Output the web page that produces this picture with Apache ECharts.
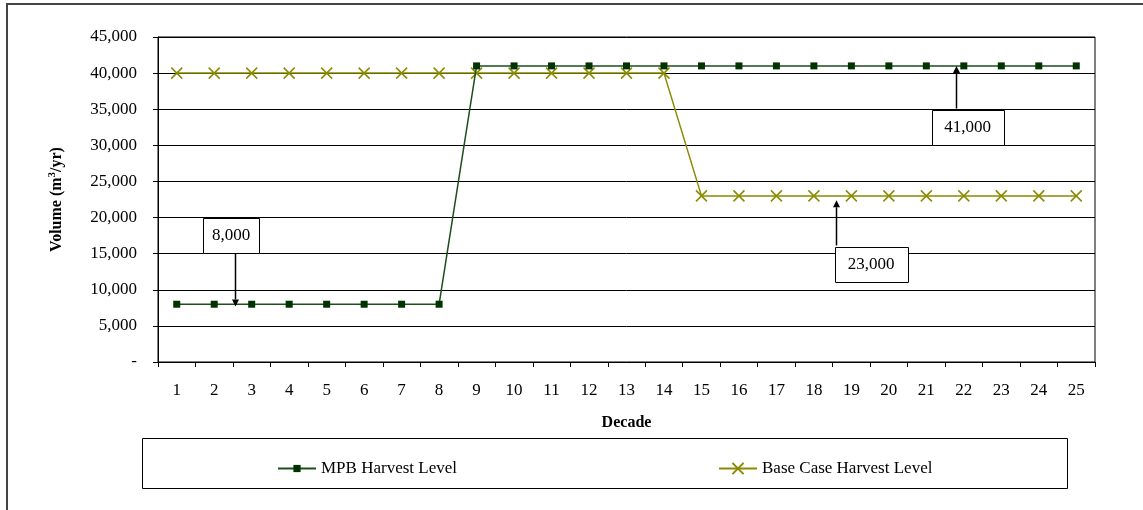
<!DOCTYPE html>
<html>
<head>
<meta charset="utf-8">
<script src="https://cdn.jsdelivr.net/npm/echarts@6/dist/echarts.min.js"></script>
<style>html,body{margin:0;padding:0;background:#fff}#c{width:1143px;height:510px}</style>
</head>
<body>
<div id="c"></div>
<script>
// ---- data ----
var decades = ['1','2','3','4','5','6','7','8','9','10','11','12','13','14','15','16','17','18','19','20','21','22','23','24','25'];
var mpbHarvest = [8000,8000,8000,8000,8000,8000,8000,8000,41000,41000,41000,41000,41000,41000,41000,41000,41000,41000,41000,41000,41000,41000,41000,41000,41000];
var baseHarvest = [40000,40000,40000,40000,40000,40000,40000,40000,40000,40000,40000,40000,40000,40000,23000,23000,23000,23000,23000,23000,23000,23000,23000,23000,23000];
var seriesNames = ['MPB Harvest Level', 'Base Case Harvest Level'];
var yTicks = [0,5000,10000,15000,20000,25000,30000,35000,40000,45000];
// annotation labels and the values they point to
var annotLabels = ['8,000', '41,000', '23,000'];
var annotValues = [8000, 41000, 23000];

// ---- layout of annotations (category index position, box top value, direction) ----
var annotLayout = [
  {boxIdx: 1.45, boxTop: 20000, arrowIdx: 1.55, tipVal: 7700, dir: 'down'},
  {boxIdx: 21.1, boxTop: 34900, arrowIdx: 20.8, tipVal: 41000, dir: 'up'},
  {boxIdx: 18.53, boxTop: 15900, arrowIdx: 17.58, tipVal: 22400, dir: 'up'}
];
var boxW = [56, 72, 73], boxH = 35;

var FONT = 'Liberation Serif';
function fmt(v){ if (v === 0) return '-'; return String(v).replace(/\B(?=(\d{3})+(?!\d))/g, ','); }

var chart = echarts.init(document.getElementById('c'), null, {renderer: 'canvas'});
var option = {
  animation: false,
  backgroundColor: '#fff',
  textStyle: {fontFamily: FONT},
  grid: {left: 158, right: 48, top: 37, bottom: 148, show: true, borderColor: '#000', borderWidth: 1},
  legend: [
    {data: [seriesNames[0]], left: 272, top: 455, itemWidth: 38, itemHeight: 9, itemGap: 5,
     textStyle: {fontFamily: FONT, fontSize: 17, color: '#000'}},
    {data: [seriesNames[1]], left: 713, top: 455, itemWidth: 38, itemHeight: 14, itemGap: 5,
     textStyle: {fontFamily: FONT, fontSize: 17, color: '#000'}}
  ],
  xAxis: {
    type: 'category', data: decades, boundaryGap: true,
    name: 'Decade', nameLocation: 'middle', nameGap: 53,
    nameTextStyle: {fontFamily: FONT, fontSize: 16, fontWeight: 'bold', color: '#000'},
    axisLine: {lineStyle: {color: '#000', width: 1}},
    axisTick: {show: true, length: 5, lineStyle: {color: '#000'}},
    axisLabel: {margin: 20, fontFamily: FONT, fontSize: 17, color: '#000'},
    splitLine: {show: false}
  },
  yAxis: {
    type: 'value', min: yTicks[0], max: yTicks[yTicks.length-1], interval: yTicks[1]-yTicks[0],
    name: 'Volume (m{sup|3}/yr)', nameLocation: 'middle', nameGap: 92, nameRotate: 90,
    nameTextStyle: {fontFamily: FONT, fontSize: 16, fontWeight: 'bold', color: '#000',
      rich: {sup: {fontFamily: FONT, fontSize: 11, fontWeight: 'bold', color: '#000', verticalAlign: 'top', padding: [0,0,8,0]}}},
    axisLine: {show: true, lineStyle: {color: '#000', width: 1}},
    axisTick: {show: true, length: 5, lineStyle: {color: '#000'}},
    axisLabel: {margin: 21, fontFamily: FONT, fontSize: 17, color: '#000', formatter: fmt},
    splitLine: {show: true, lineStyle: {color: '#000', width: 1}}
  },
  series: [
    {name: seriesNames[0], type: 'line', data: mpbHarvest,
     symbol: 'rect', symbolSize: 7, showAllSymbol: true,
     lineStyle: {color: '#1e4d1e', width: 1.5},
     itemStyle: {color: '#003300', borderWidth: 0}, z: 3},
    {name: seriesNames[1], type: 'line', data: baseHarvest,
     symbol: 'path://M0,0L10,10M10,0L0,10', symbolSize: 11, showAllSymbol: true,
     lineStyle: {color: '#8b8b00', width: 1.5},
     itemStyle: {color: 'rgba(0,0,0,0)', borderColor: '#8b8b00', borderWidth: 1.5}, z: 2}
  ]
};
chart.setOption(option);

function idxToX(i){
  var p0 = chart.convertToPixel({xAxisIndex: 0}, 0);
  var p1 = chart.convertToPixel({xAxisIndex: 0}, 1);
  return p0 + (p1 - p0) * i;
}
function valToY(v){ return chart.convertToPixel({yAxisIndex: 0}, v); }

var g = [
  {type: 'rect', shape: {x: 7, y: 4, width: 1300, height: 700}, style: {fill: 'none', stroke: '#444', lineWidth: 2}, silent: true, z: 100},
  {type: 'rect', shape: {x: 142.5, y: 438.5, width: 925, height: 50}, style: {fill: 'none', stroke: '#000', lineWidth: 1}, silent: true, z: 100}
];
annotLayout.forEach(function(a, k){
  var cx = idxToX(a.boxIdx);
  var top = Math.round(valToY(a.boxTop)) + 0.5;
  var left = Math.round(cx - boxW[k]/2) + 0.5;
  g.push({type: 'rect', shape: {x: left, y: top, width: boxW[k], height: boxH},
    style: {fill: '#fff', stroke: '#000', lineWidth: 1}, z: 100});
  g.push({type: 'text', x: cx, y: top + boxH/2, style: {text: annotLabels[k], fontFamily: FONT, fontSize: 17, fill: '#000', align: 'center', verticalAlign: 'middle'}, z: 101});
  var ax = Math.round(idxToX(a.arrowIdx)) + 0.5;
  var tipY = valToY(a.tipVal);
  var startY = a.dir === 'down' ? top + boxH : top - 2;
  var headLen = 7, headHalf = 3.5;
  var baseY = a.dir === 'down' ? tipY - headLen : tipY + headLen;
  g.push({type: 'line', shape: {x1: ax, y1: startY, x2: ax, y2: baseY}, style: {stroke: '#000', lineWidth: 1.5}, z: 101});
  g.push({type: 'polygon', shape: {points: [[ax, tipY], [ax - headHalf, baseY], [ax + headHalf, baseY]]}, style: {fill: '#000'}, z: 101});
});
chart.setOption({graphic: g});
</script>
</body>
</html>
